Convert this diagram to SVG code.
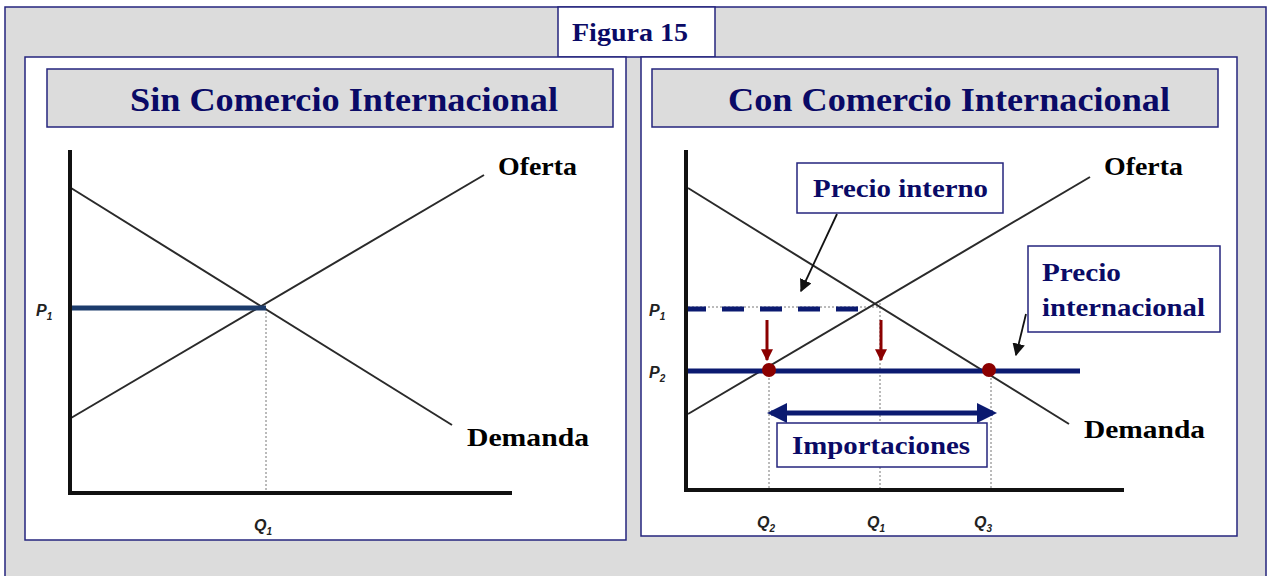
<svg xmlns="http://www.w3.org/2000/svg" width="1271" height="576" viewBox="0 0 1271 576">
<style>
.frame{fill:#dcdcdc;stroke:#25257d;stroke-width:1.5}
.panel{fill:#ffffff;stroke:#25257d;stroke-width:1.5}
.tbox{fill:#dcdcdc;stroke:#25257d;stroke-width:1.5}
.lbox{fill:#ffffff;stroke:#25257d;stroke-width:1.5}
.title{font-family:"Liberation Serif",serif;font-weight:bold;fill:#0a0a66;font-size:34px}
.lab{font-family:"Liberation Serif",serif;font-weight:bold;fill:#0a0a66;font-size:25px}
.curve{font-family:"Liberation Serif",serif;font-weight:bold;fill:#000;font-size:26px}
.axl{font-family:"Liberation Sans",sans-serif;font-weight:bold;font-style:italic;fill:#222;font-size:16px}
.sub{font-size:10px}
.axis{stroke:#111;stroke-width:4;fill:none}
.line{stroke:#2a2a2a;stroke-width:2;fill:none}
.dot{stroke:#777;stroke-width:1;stroke-dasharray:2 2;fill:none}
.navy{stroke:#0b1a70;stroke-width:5;fill:none}
.red{stroke:#8b0000;stroke-width:3;fill:none}
.blk{stroke:#111;stroke-width:1.8;fill:none}
</style>
<defs>
<marker id="redHead" viewBox="0 0 10 10" refX="9" refY="5" markerWidth="4" markerHeight="4" orient="auto" markerUnits="strokeWidth"><path d="M0,0 L10,5 L0,10 z" fill="#8b0000"/></marker>
<marker id="blkHead" viewBox="0 0 10 10" refX="9" refY="5" markerWidth="7" markerHeight="7" orient="auto" markerUnits="strokeWidth"><path d="M0,0 L10,5 L0,10 z" fill="#111"/></marker>
<marker id="navyHead" viewBox="0 0 10 10" refX="8" refY="5" markerWidth="4" markerHeight="4" orient="auto-start-reverse" markerUnits="strokeWidth"><path d="M0,0 L10,5 L0,10 z" fill="#0b1a70"/></marker>
</defs>

<g id="frame">
<rect class="frame" x="5" y="7" width="1261" height="575"/>
</g>

<g id="figura">
<rect class="lbox" x="558" y="7" width="157" height="50"/>
<text class="lab" x="572" y="41" font-size="23" textLength="116" lengthAdjust="spacingAndGlyphs">Figura 15</text>
</g>

<g id="panel-left">
<rect class="panel" x="25" y="57" width="601" height="483"/>
<rect class="tbox" x="47" y="69" width="566" height="58"/>
<text class="title" x="130" y="111" textLength="428" lengthAdjust="spacingAndGlyphs">Sin Comercio Internacional</text>
</g>

<g id="panel-right">
<rect class="panel" x="641" y="57" width="596" height="479"/>
<rect class="tbox" x="652" y="69" width="566" height="58"/>
<text class="title" x="728" y="111" textLength="442" lengthAdjust="spacingAndGlyphs">Con Comercio Internacional</text>
</g>

<g id="chart-left">
<line class="dot" x1="266" y1="308" x2="266" y2="493"/>
<line class="line" x1="71" y1="188" x2="452" y2="425"/>
<line class="line" x1="71" y1="418" x2="484" y2="175"/>
<line x1="69" y1="308" x2="266" y2="308" stroke="#1c3c6c" stroke-width="5"/>
<path class="axis" d="M70,150 V493 H512"/>
<text class="axl" x="36" y="316">P<tspan class="sub" dy="4">1</tspan></text>
<text class="axl" x="254" y="531">Q<tspan class="sub" dy="4">1</tspan></text>
<text class="curve" x="498" y="175" textLength="79" lengthAdjust="spacingAndGlyphs">Oferta</text>
<text class="curve" x="467" y="446" textLength="122" lengthAdjust="spacingAndGlyphs">Demanda</text>
</g>

<g id="chart-right">
<line class="dot" x1="684" y1="307" x2="879" y2="307"/>
<line class="dot" x1="684" y1="370" x2="1060" y2="370"/>
<line class="dot" x1="880" y1="303" x2="880" y2="490"/>
<line class="dot" x1="769" y1="370" x2="769" y2="490"/>
<line class="dot" x1="991" y1="370" x2="991" y2="490"/>
<line class="line" x1="688" y1="188" x2="1069" y2="424"/>
<line class="line" x1="688" y1="414" x2="1090" y2="177"/>
<line class="navy" x1="684" y1="309" x2="860" y2="309" stroke-dasharray="22 16"/>
<line class="navy" x1="684" y1="371" x2="1080" y2="371"/>
<path class="axis" d="M686,150 V490 H1124"/>
<text class="axl" x="649" y="316">P<tspan class="sub" dy="4">1</tspan></text>
<text class="axl" x="649" y="378">P<tspan class="sub" dy="4">2</tspan></text>
<text class="axl" x="757" y="528">Q<tspan class="sub" dy="4">2</tspan></text>
<text class="axl" x="867" y="528">Q<tspan class="sub" dy="4">1</tspan></text>
<text class="axl" x="974" y="528">Q<tspan class="sub" dy="4">3</tspan></text>
<text class="curve" x="1104" y="175" textLength="79" lengthAdjust="spacingAndGlyphs">Oferta</text>
<text class="curve" x="1084" y="438" textLength="121" lengthAdjust="spacingAndGlyphs">Demanda</text>
</g>

<g id="connectors">
<line class="red" x1="767" y1="320" x2="767" y2="360" marker-end="url(#redHead)"/>
<line class="red" x1="881" y1="320" x2="881" y2="360" marker-end="url(#redHead)"/>
<line class="blk" x1="837" y1="214" x2="801" y2="291" marker-end="url(#blkHead)"/>
<line class="blk" x1="1026" y1="314" x2="1016" y2="355" marker-end="url(#blkHead)"/>
<line class="navy" x1="771" y1="413" x2="993" y2="413" marker-start="url(#navyHead)" marker-end="url(#navyHead)"/>
</g>

<g id="dots">
<circle cx="769" cy="370" r="7" fill="#8b0000"/>
<circle cx="989" cy="370" r="7" fill="#8b0000"/>
</g>

<g id="precio-interno">
<rect class="lbox" x="797" y="163" width="206" height="50"/>
<text class="lab" x="813" y="197" textLength="175" lengthAdjust="spacingAndGlyphs">Precio interno</text>
</g>

<g id="precio-internacional">
<rect class="lbox" x="1028" y="246" width="192" height="86"/>
<text class="lab" x="1042" y="281" textLength="79" lengthAdjust="spacingAndGlyphs">Precio</text>
<text class="lab" x="1042" y="316" textLength="163" lengthAdjust="spacingAndGlyphs">internacional</text>
</g>

<g id="importaciones">
<rect class="lbox" x="777" y="423" width="210" height="44"/>
<text class="lab" x="792" y="454" textLength="178" lengthAdjust="spacingAndGlyphs">Importaciones</text>
</g>
</svg>
